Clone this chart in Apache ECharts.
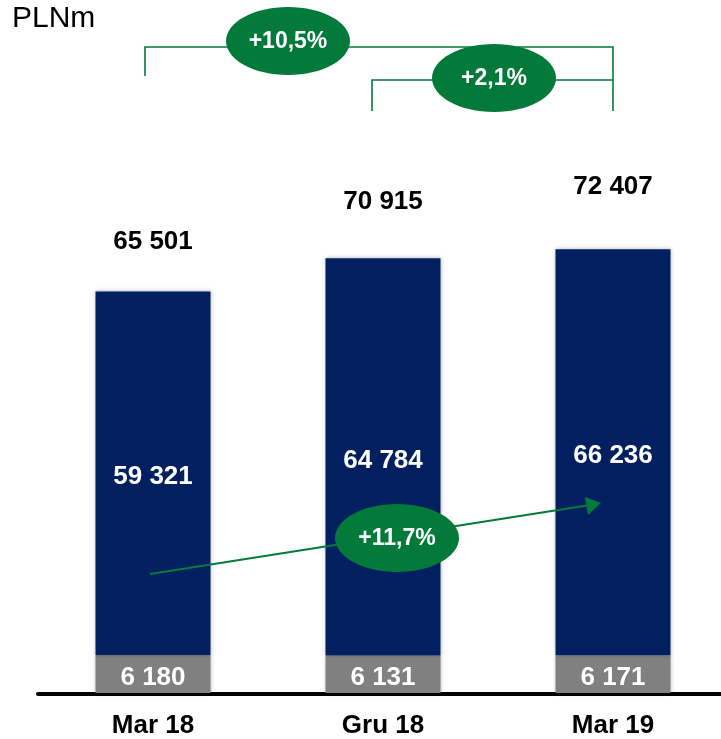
<!DOCTYPE html>
<html>
<head>
<meta charset="utf-8">
<script src="https://cdn.jsdelivr.net/npm/echarts@6/dist/echarts.min.js"></script>
<style>
  html, body { margin: 0; padding: 0; background: #fff; }
  #chart { width: 721px; height: 739px; }
</style>
</head>
<body>
<div id="chart"></div>
<script>
const categories = ["Mar 18", "Gru 18", "Mar 19"];
const bottomValues = [6180, 6131, 6171];
const mainValues = [59321, 64784, 66236];
const totals = [65501, 70915, 72407];
const growthLabels = ["+10,5%", "+2,1%", "+11,7%"];

const NAVY = "#022060";
const GREY = "#808080";
const GREEN = "#037A3A";
const FONT = "'Liberation Sans', Arial, sans-serif";

const fmt = (v) => String(v).replace(/\B(?=(\d{3})+(?!\d))/g, " ");

const chart = echarts.init(document.getElementById("chart"));

function bubble(cx, cy, text) {
  return [
    {
      type: "ellipse",
      shape: { cx: cx, cy: cy, rx: 62, ry: 34 },
      style: { fill: GREEN },
      z: 20
    },
    {
      type: "text",
      x: cx,
      y: cy + 1,
      z: 21,
      style: {
        text: text,
        fill: "#fff",
        font: "bold 23px " + FONT,
        align: "center",
        verticalAlign: "middle"
      }
    }
  ];
}

const lineStyle = { stroke: GREEN, lineWidth: 1.6, fill: null };
const boldLabel = { fontFamily: FONT, fontWeight: "bold", fontSize: 26 };

chart.setOption({
  animation: false,
  grid: [
    // bars: category points sit on the grid edges
    { left: 153, right: 108, top: 80, bottom: 45 },
    // full-width baseline
    { left: 38, right: 0, top: 80, bottom: 45 }
  ],
  xAxis: [
    {
      type: "category",
      data: categories,
      boundaryGap: false,
      axisLine: { show: false },
      axisTick: { show: false },
      axisLabel: Object.assign({ color: "#000", margin: 20 }, boldLabel)
    },
    {
      type: "category",
      gridIndex: 1,
      data: [],
      axisLine: { lineStyle: { color: "#000", width: 4 } },
      axisTick: { show: false },
      axisLabel: { show: false }
    }
  ],
  yAxis: [
    { type: "value", min: 0, max: 100000, show: false },
    { type: "value", gridIndex: 1, min: 0, max: 100000, show: false }
  ],
  series: [
    {
      type: "bar",
      stack: "t",
      barWidth: 115,
      clip: false,
      data: bottomValues,
      itemStyle: { color: GREY, shadowColor: "rgba(0,0,0,0.25)", shadowBlur: 4 },
      label: Object.assign({
        show: true,
        position: "inside",
        offset: [0, 4],
        color: "#fff",
        formatter: (p) => fmt(p.value)
      }, boldLabel)
    },
    {
      type: "bar",
      stack: "t",
      barWidth: 115,
      clip: false,
      data: mainValues,
      itemStyle: { color: NAVY, shadowColor: "rgba(0,0,40,0.3)", shadowBlur: 4 },
      label: Object.assign({
        show: true,
        position: "inside",
        offset: [0, 4],
        color: "#fff",
        formatter: (p) => fmt(p.value)
      }, boldLabel)
    },
    {
      // totals above each stack
      type: "bar",
      stack: "t",
      barWidth: 115,
      clip: false,
      silent: true,
      data: totals.map((t, i) => ({
        value: 0,
        label: { distance: [37, 43, 49][i] }
      })),
      label: Object.assign({
        show: true,
        position: "top",
        color: "#000",
        formatter: (p) => fmt(totals[p.dataIndex])
      }, boldLabel)
    }
  ],
  graphic: [
    {
      type: "text",
      left: 12,
      top: 4,
      style: { text: "PLNm", fill: "#000", font: "30px " + FONT }
    },
    { type: "polyline", shape: { points: [[145, 76], [145, 47], [613, 47], [613, 111]] }, style: lineStyle, z: 10 },
    { type: "polyline", shape: { points: [[372, 111], [372, 80], [613, 80]] }, style: lineStyle, z: 10 },
    ...bubble(288, 41, growthLabels[0]),
    ...bubble(494, 78, growthLabels[1]),
    { type: "line", shape: { x1: 150, y1: 574, x2: 590, y2: 505 }, style: { stroke: GREEN, lineWidth: 2.2 }, z: 10 },
    { type: "polygon", shape: { points: [[601, 503], [585, 497], [588, 515]] }, style: { fill: GREEN }, z: 10 },
    ...bubble(397, 538, growthLabels[2])
  ]
});
</script>
</body>
</html>
